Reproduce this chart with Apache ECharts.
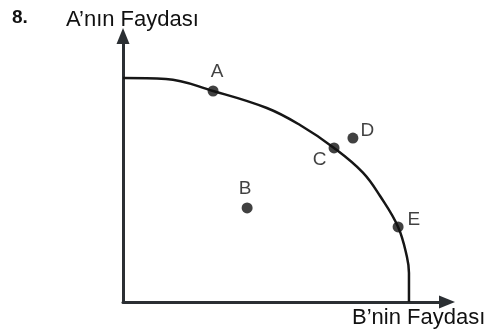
<!DOCTYPE html>
<html>
<head>
<meta charset="utf-8">
<script src="https://cdn.jsdelivr.net/npm/echarts@6/dist/echarts.min.js"></script>
<style>
  html, body { margin: 0; padding: 0; background: #fff; }
  #chart { width: 491px; height: 334px; }
</style>
</head>
<body>
<div id="chart"></div>
<script>
// fayda olanakları eğrisi (birim: B ve A'nın faydası, 0-100)
var frontierX = [0, 15, 31.5, 50.3, 61.9, 73.8, 83.9, 89.9, 96.2, 99.3, 100, 100]
var frontierY = [100, 99.6, 94.2, 86.6, 79.0, 68.8, 57.8, 47.3, 33.5, 20.1, 12.9, 0]

// noktalar
var pointNames = ['A', 'B', 'C', 'D', 'E']
var pointX = [31.5, 43.4, 73.8, 80.4, 96.2]
var pointY = [94.2, 42.0, 68.8, 73.2, 33.5]

var labelPos = {
  A: { position: 'top', offset: [4, 1] },
  B: { position: 'top', offset: [-2, 1] },
  C: { position: 'left', offset: [3, 12] },
  D: { position: 'right', offset: [-3, -7] },
  E: { position: 'right', offset: [-1, -7] }
}

var axisColor = '#2b2f33'
var font = 'Liberation Sans, Arial, sans-serif'

var chart = echarts.init(document.getElementById('chart'), null, { renderer: 'canvas' })

var option = {
  animation: false,
  backgroundColor: '#fff',
  grid: { left: 123, right: 44, top: 36, bottom: 32 },
  xAxis: {
    type: 'value',
    min: 0,
    max: 113.3,
    axisLine: {
      show: true,
      symbol: ['none', 'triangle'],
      symbolSize: [13, 16],
      lineStyle: { color: axisColor, width: 3 }
    },
    axisTick: { show: false },
    axisLabel: { show: false },
    splitLine: { show: false }
  },
  yAxis: {
    type: 'value',
    min: 0,
    max: 118.75,
    axisLine: {
      show: true,
      symbol: ['none', 'triangle'],
      symbolSize: [13, 16],
      lineStyle: { color: axisColor, width: 3 }
    },
    axisTick: { show: false },
    axisLabel: { show: false },
    splitLine: { show: false }
  },
  graphic: [
    { type: 'text', left: 12, top: 8, style: { text: '8.', font: 'bold 19px ' + font, fill: '#111' } },
    { type: 'text', left: 66, top: 9, style: { text: 'A’nın Faydası', font: '22px ' + font, fill: '#111' } },
    { type: 'text', left: 352, top: 307, style: { text: 'B’nin Faydası', font: '22px ' + font, fill: '#111' } }
  ],
  series: [
    {
      type: 'line',
      data: frontierX.map(function (x, i) { return [x, frontierY[i]] }),
      smooth: 0.4,
      symbol: 'none',
      lineStyle: { color: '#161616', width: 2.5 },
      z: 3
    },
    {
      type: 'scatter',
      symbolSize: 11,
      itemStyle: { color: '#111' },
      data: pointNames.map(function (n, i) {
        return {
          name: n,
          value: [pointX[i], pointY[i]],
          label: {
            show: true,
            formatter: n,
            position: labelPos[n].position,
            offset: labelPos[n].offset,
            fontSize: 19,
            fontFamily: font,
            color: '#111'
          }
        }
      }),
      z: 4
    }
  ]
}

chart.setOption(option)
</script>
</body>
</html>
